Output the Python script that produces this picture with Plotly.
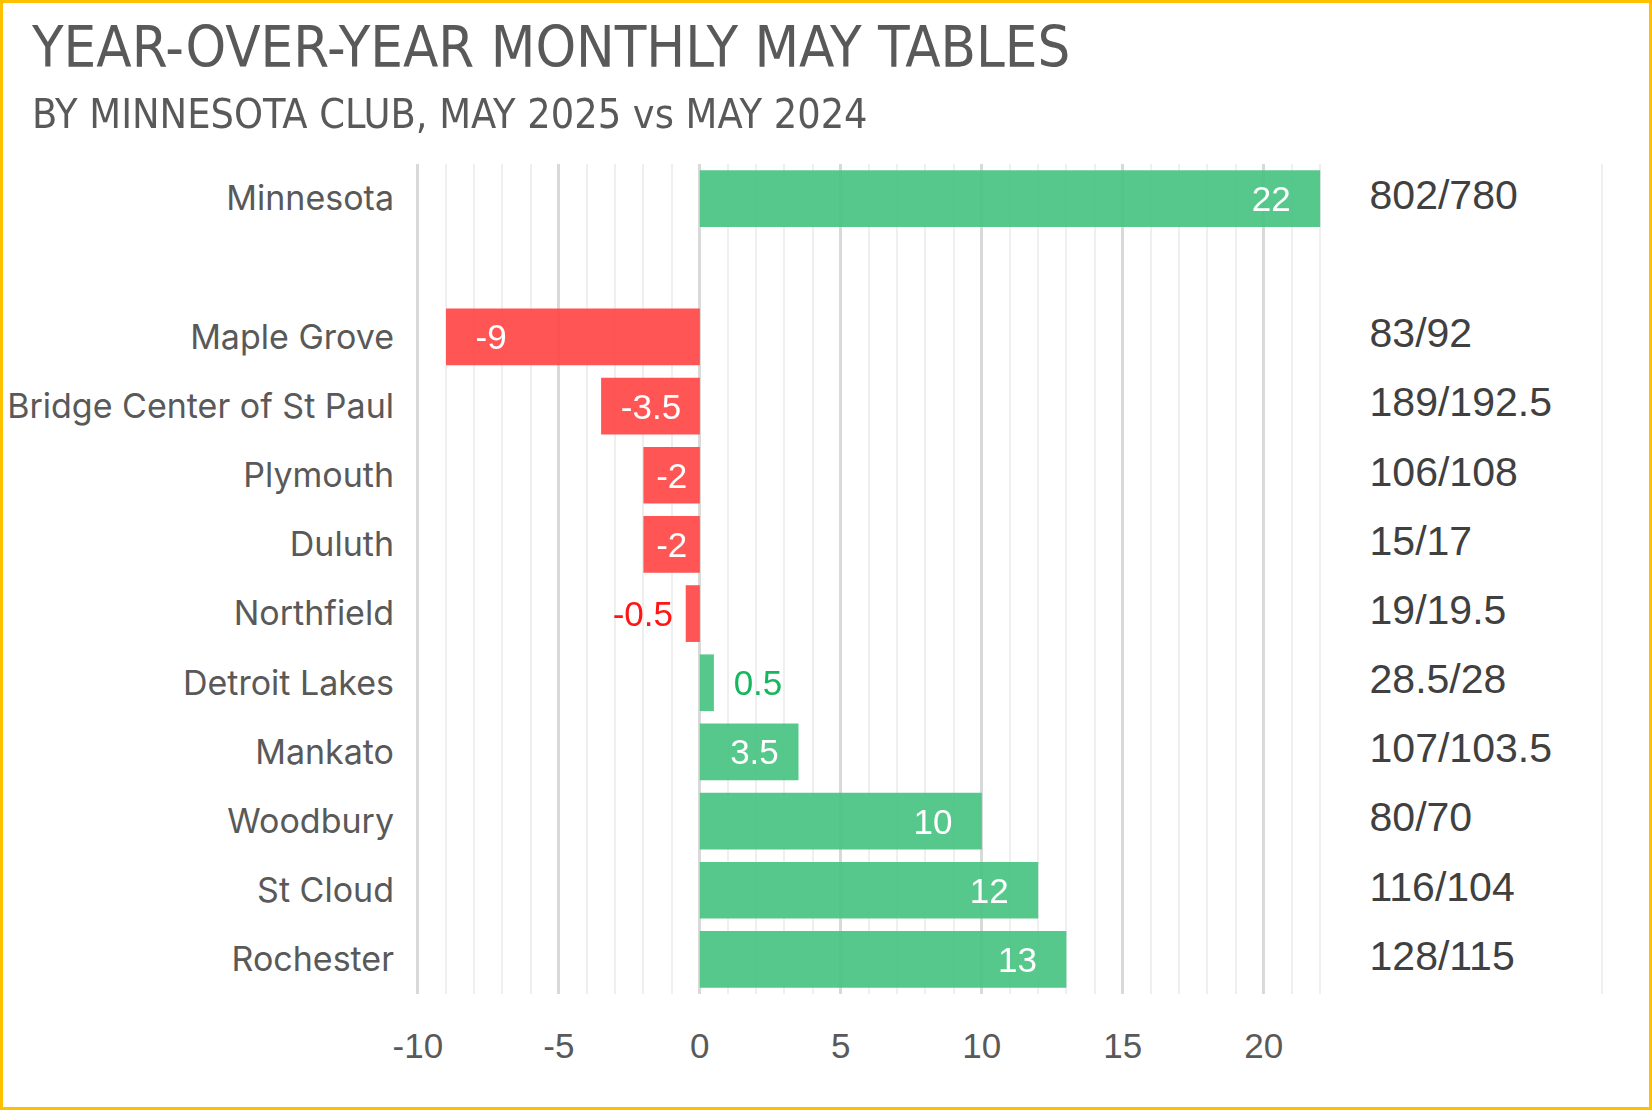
import plotly.graph_objects as go

# ---- data ----
clubs = ["Minnesota", " ", "Maple Grove", "Bridge Center of St Paul", "Plymouth", "Duluth",
         "Northfield", "Detroit Lakes", "Mankato", "Woodbury", "St Cloud", "Rochester"]
change = [22, None, -9, -3.5, -2, -2, -0.5, 0.5, 3.5, 10, 12, 13]
ratio_labels = ["802/780", "", "83/92", "189/192.5", "106/108", "15/17", "19/19.5",
                "28.5/28", "107/103.5", "80/70", "116/104", "128/115"]
tick_vals = [-10, -5, 0, 5, 10, 15, 20]
tick_text = ["-10", "-5", "0", "5", "10", "15", "20"]

# ---- styling ----
W, H = 1652, 1110
L, R, T, B = 415, 47, 164, 116
GREEN = "rgb(72,196,130)"
RED = "rgb(255,70,70)"
GRAY = "#595959"
NARROW = "Liberation Sans Narrow, DejaVu Sans Condensed, Arial Narrow, sans-serif"
SANS = "Liberation Sans, Arial, sans-serif"
CAT_FONT = "Inter, Liberation Sans, sans-serif"
NB = "\u00a0"
TH = "\u2009"

colors, texts, positions, tcolors = [], [], [], []
for v in change:
    if v is None:
        colors.append(GREEN); texts.append(""); positions.append("none"); tcolors.append("white")
        continue
    s = f"{v:g}"
    a = abs(v)
    pad_out = NB + TH if v > 0 else NB
    if a < 3:
        pad_in = NB
    elif a < 5:
        pad_in = NB + TH
    else:
        pad_in = NB + NB + TH
    if v >= 0:
        colors.append(GREEN)
        if a < 1:
            texts.append(pad_out + s); positions.append("outside"); tcolors.append("#00B050")
        else:
            texts.append(s + pad_in); positions.append("inside"); tcolors.append("white")
    else:
        colors.append(RED)
        if a < 1:
            texts.append(s + pad_out); positions.append("outside"); tcolors.append("#FF0000")
        else:
            texts.append(pad_in + s); positions.append("inside"); tcolors.append("white")

fig = go.Figure()
fig.add_trace(go.Bar(
    x=change, y=clubs, orientation="h",
    marker=dict(color=colors, line=dict(width=0)), opacity=0.92,
    text=texts, textposition=positions, insidetextanchor="end", textangle=0,
    textfont=dict(family=SANS, size=35, color=tcolors),
    constraintext="none", cliponaxis=False, hoverinfo="skip", showlegend=False,
))
fig.add_trace(go.Scatter(
    x=[23.75] * len(clubs), y=clubs, mode="text", text=ratio_labels,
    textposition="middle right", textfont=dict(family=SANS, size=41, color="#404040"),
    cliponaxis=False, hoverinfo="skip", showlegend=False,
))

minor_vals = [v for v in range(-9, 23) if v % 5 != 0] + [32]

fig.update_layout(
    width=W, height=H, margin=dict(l=L, r=R, t=T, b=B, autoexpand=False),
    paper_bgcolor="white", plot_bgcolor="white",
    bargap=0.18,
    title=dict(text="YEAR-OVER-YEAR MONTHLY MAY TABLES", x=32 / W, xanchor="left",
               y=1 - 47 / H, yanchor="middle", xref="container", yref="container",
               font=dict(family=NARROW, size=57.5, color=GRAY)),
    xaxis=dict(range=[-10.1, 32.1], tickmode="array", tickvals=tick_vals, ticktext=tick_text,
               showgrid=True, gridcolor="#D9D9D9", gridwidth=2.5, zeroline=False,
               showline=False, ticks="", ticklabelstandoff=28, automargin=False,
               tickfont=dict(family=SANS, size=35, color=GRAY),
               minor=dict(tickmode="array", tickvals=minor_vals, showgrid=True,
                          gridcolor="#EFEFEF", gridwidth=2, ticks="")),
    yaxis=dict(type="category", categoryorder="array", categoryarray=clubs,
               range=[len(clubs) - 0.5, -0.5], autorange=False,
               showgrid=False, zeroline=False, showline=False, automargin=False,
               ticks="", ticklabelstandoff=20,
               tickfont=dict(family=CAT_FONT, size=34, color=GRAY)),
    annotations=[dict(text="BY MINNESOTA CLUB, MAY 2025 vs MAY 2024", xref="paper", yref="paper",
                      x=(30 - L) / (W - L - R), y=(H - B - 114) / (H - T - B),
                      xanchor="left", yanchor="middle", showarrow=False,
                      font=dict(family=NARROW, size=41, color=GRAY))],
    shapes=[dict(type="rect", xref="paper", yref="paper", layer="above",
                 x0=(1.5 - L) / (W - L - R), x1=(W - 1.5 - L) / (W - L - R),
                 y0=(H - B - (H - 1.5)) / (H - T - B), y1=(H - B - 1.5) / (H - T - B),
                 line=dict(color="#FFC000", width=3), fillcolor="rgba(0,0,0,0)")],
)

fig.write_html("out.html", config={"displayModeBar": False},
               post_script="document.body.style.margin='0';document.body.style.overflow='hidden';")
